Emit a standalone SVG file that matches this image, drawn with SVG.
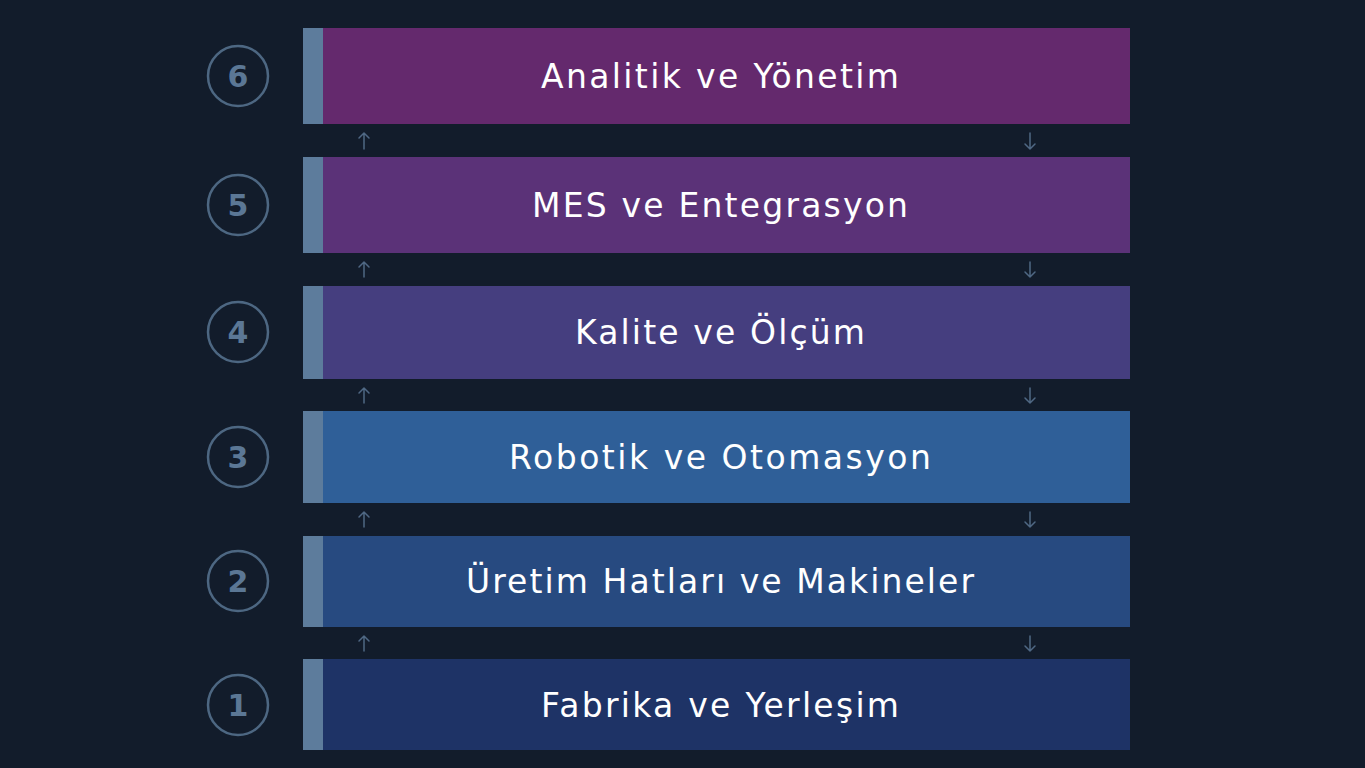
<svg xmlns="http://www.w3.org/2000/svg" width="1365" height="768" viewBox="0 0 1365 768">
<defs>
<style>
.bg{fill:#121c2b}
.strip{fill:#5d7c9c}
.lbl{font-family:"DejaVu Sans","Open Sans",sans-serif;font-size:33px;fill:#ffffff;text-anchor:middle;dominant-baseline:central}
.num{font-family:"DejaVu Sans","Open Sans",sans-serif;font-size:30px;font-weight:700;fill:#5b7795;text-anchor:middle;dominant-baseline:central}
.ring{fill:none;stroke:#4d6782;stroke-width:2.5}
.arr{fill:none;stroke:#4f6884;stroke-width:1.5;stroke-linecap:round;stroke-linejoin:round}
</style>
</defs>
<rect class="bg" x="0" y="0" width="1365" height="768"/>
<g id="node6">
<rect x="303" y="28" width="827" height="96" fill="#64296d"/>
<rect class="strip" x="303" y="28" width="20" height="96"/>
<circle class="ring" cx="238" cy="76" r="30"/>
<text class="num" x="238" y="76">6</text>
<text class="lbl" x="720" y="76" textLength="358">Analitik ve Yönetim</text>
</g>
<g id="node5">
<rect x="303" y="157" width="827" height="96" fill="#5b3278"/>
<rect class="strip" x="303" y="157" width="20" height="96"/>
<circle class="ring" cx="238" cy="205" r="30"/>
<text class="num" x="238" y="205">5</text>
<text class="lbl" x="720" y="205" textLength="376">MES ve Entegrasyon</text>
</g>
<g id="node4">
<rect x="303" y="286" width="827" height="93" fill="#453e7f"/>
<rect class="strip" x="303" y="286" width="20" height="93"/>
<circle class="ring" cx="238" cy="332" r="30"/>
<text class="num" x="238" y="332">4</text>
<text class="lbl" x="720" y="332" textLength="290">Kalite ve Ölçüm</text>
</g>
<g id="node3">
<rect x="303" y="411" width="827" height="92" fill="#2f5f98"/>
<rect class="strip" x="303" y="411" width="20" height="92"/>
<circle class="ring" cx="238" cy="457" r="30"/>
<text class="num" x="238" y="457">3</text>
<text class="lbl" x="720" y="457" textLength="422">Robotik ve Otomasyon</text>
</g>
<g id="node2">
<rect x="303" y="536" width="827" height="91" fill="#274a80"/>
<rect class="strip" x="303" y="536" width="20" height="91"/>
<circle class="ring" cx="238" cy="581" r="30"/>
<text class="num" x="238" y="581">2</text>
<text class="lbl" x="720" y="581" textLength="508">Üretim Hatları ve Makineler</text>
</g>
<g id="node1">
<rect x="303" y="659" width="827" height="91" fill="#1e3366"/>
<rect class="strip" x="303" y="659" width="20" height="91"/>
<circle class="ring" cx="238" cy="705" r="30"/>
<text class="num" x="238" y="705">1</text>
<text class="lbl" x="720" y="705" textLength="358">Fabrika ve Yerleşim</text>
</g>
<g id="connectors">
<path class="arr" d="M364 149V133M359 138L364 133L369 138"/>
<path class="arr" d="M1030 133V149M1025 144L1030 149L1035 144"/>
<path class="arr" d="M364 277V262M359 267L364 262L369 267"/>
<path class="arr" d="M1030 262V277M1025 272L1030 277L1035 272"/>
<path class="arr" d="M364 403V388M359 393L364 388L369 393"/>
<path class="arr" d="M1030 388V403M1025 398L1030 403L1035 398"/>
<path class="arr" d="M364 527V512M359 517L364 512L369 517"/>
<path class="arr" d="M1030 512V527M1025 522L1030 527L1035 522"/>
<path class="arr" d="M364 651V636M359 641L364 636L369 641"/>
<path class="arr" d="M1030 636V651M1025 646L1030 651L1035 646"/>
</g>
</svg>
